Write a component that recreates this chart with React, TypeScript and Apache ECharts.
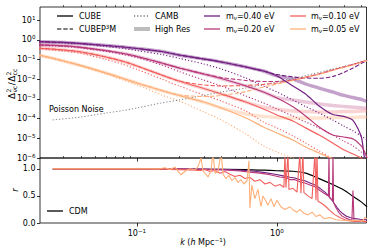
import React, { useEffect, useRef } from 'react';
import * as echarts from 'echarts';

const FONT = 'DejaVu Sans';

// wavenumber grid (h/Mpc) for the top panel curves
const K = [0.02, 0.03, 0.04, 0.06, 0.08, 0.1, 0.15, 0.2, 0.3, 0.4, 0.6, 0.8, 1.0, 1.3, 1.6, 2.0, 2.5, 3.0, 3.5, 4.0, 4.2, 4.4];

// m_nu = 0.40 eV
const pur_cube = [0.82, 0.75, 0.66, 0.525, 0.44, 0.37, 0.26, 0.173, 0.108, 0.0762, 0.0424, 0.0265, 0.0148, 0.0046, 0.0018, 0.00044, 0.000163, 0.00013, 0.00008, 0.000012, 0.0000012, 2e-7];
const pur_p3m = [0.82, 0.75, 0.66, 0.525, 0.44, 0.37, 0.26, 0.173, 0.108, 0.0762, 0.0424, 0.0265, 0.0176, 0.0132, 0.0117, 0.0113, 0.014, 0.0223, 0.0377, 0.0638, 0.0762, 0.091];
const pur_hr = [0.82, 0.75, 0.66, 0.525, 0.44, 0.37, 0.26, 0.173, 0.108, 0.0762, 0.0424, 0.0265, 0.0148, 0.0104, 0.0058, 0.0036, 0.00227, 0.00151, 0.00119, 0.00095, 0.00084, 0.00075];
const pur_camb = [0.79, 0.7, 0.63, 0.47, 0.37, 0.29, 0.183, 0.117, 0.0603, 0.0336, 0.0117, 0.0046, 0.00227, 0.00089, 0.00042, 0.000194, 0.000086, 0.000042, 0.0000237, 0.0000132, 0.0000104, 0.0000082];
// m_nu = 0.20 eV
const mag_cube = [0.56, 0.5, 0.42, 0.29, 0.206, 0.145, 0.0677, 0.0377, 0.0187, 0.011, 0.0046, 0.00227, 0.00112, 0.0004, 0.000137, 0.000038, 0.0000148, 0.0000117, 0.0000093, 0.0000041, 0.0000023, 0.000001];
const mag_p3m = [0.56, 0.5, 0.42, 0.29, 0.206, 0.145, 0.0677, 0.0377, 0.0187, 0.0124, 0.0087, 0.0078, 0.0078, 0.0092, 0.0124, 0.0187, 0.0299, 0.0424, 0.057, 0.0762, 0.0856, 0.091];
const mag_hr = [0.56, 0.5, 0.42, 0.29, 0.206, 0.145, 0.0677, 0.0377, 0.0187, 0.011, 0.0046, 0.00227, 0.00118, 0.00089, 0.0007, 0.00056, 0.00047, 0.00042, 0.00038, 0.00036, 0.00035, 0.00035];
const mag_camb = [0.525, 0.47, 0.39, 0.26, 0.183, 0.129, 0.0536, 0.025, 0.0092, 0.0046, 0.00142, 0.00063, 0.00031, 0.000137, 0.000068, 0.000034, 0.0000148, 0.0000073, 0.0000041, 0.000002, 0.0000016, 0.00000113];
// m_nu = 0.10 eV
const ora_cube = [0.38, 0.31, 0.245, 0.137, 0.0807, 0.0477, 0.0166, 0.0082, 0.0034, 0.0018, 0.0007, 0.00031, 0.000154, 0.000076, 0.000034, 0.0000148, 0.0000058, 0.0000026, 0.0000016, 0.000001, 8e-7, 6.3e-7];
const ora_p3m = [0.38, 0.31, 0.245, 0.137, 0.0807, 0.0477, 0.0166, 0.0082, 0.0052, 0.0046, 0.0049, 0.0055, 0.0065, 0.0092, 0.0132, 0.0187, 0.0299, 0.0424, 0.057, 0.0762, 0.0856, 0.091];
const ora_hr = [0.38, 0.31, 0.245, 0.137, 0.0807, 0.0477, 0.0166, 0.0082, 0.0034, 0.0018, 0.0007, 0.00039, 0.0003, 0.000245, 0.000232, 0.000219, 0.000219, 0.000232, 0.000232, 0.000245, 0.000245, 0.000245];
const ora_camb = [0.35, 0.276, 0.206, 0.102, 0.057, 0.0317, 0.0104, 0.0046, 0.0016, 0.00079, 0.000245, 0.000068, 0.000034, 0.0000132, 0.0000058, 0.0000023, 9e-7, 3.5e-7, 2e-7, 1.2e-7, 1e-7, 8e-8];
// m_nu = 0.05 eV
const pea_cube = [0.173, 0.0856, 0.05, 0.021, 0.011, 0.0065, 0.0027, 0.00151, 0.0007, 0.00035, 0.000108, 0.000038, 0.0000187, 0.0000082, 0.0000036, 0.0000018, 9e-7, 5.6e-7, 3.5e-7, 2.5e-7, 2.2e-7, 2e-7];
const pea_p3m = [0.173, 0.0856, 0.05, 0.021, 0.011, 0.0065, 0.0027, 0.0016, 0.00134, 0.00151, 0.0024, 0.0041, 0.0058, 0.0087, 0.0124, 0.0176, 0.028, 0.04, 0.0536, 0.072, 0.081, 0.0856];
const pea_hr = [0.173, 0.0856, 0.05, 0.021, 0.011, 0.0065, 0.0027, 0.00151, 0.0007, 0.00035, 0.000173, 0.00013, 0.000115, 0.000108, 0.000108, 0.000108, 0.000115, 0.000115, 0.000115, 0.000122, 0.000122, 0.000122];
const pea_camb = [0.154, 0.08, 0.046, 0.0187, 0.0092, 0.0052, 0.0016, 0.00079, 0.000219, 0.000086, 0.0000166, 0.0000041, 0.000002, 0.000001, 5e-7, 2.5e-7, 1.2e-7, 8e-8, 5e-8, 3.5e-8, 3e-8, 2.7e-8];

// Poisson noise
const K_POISSON = [0.025, 0.04, 0.06, 0.08, 0.1, 0.15, 0.2, 0.3, 0.4, 0.6, 0.8, 1.0, 1.3, 1.6, 2.0, 2.5, 3.0, 3.5, 4.0, 4.4];
const poisson = [0.000086, 0.000122, 0.000194, 0.00026, 0.00035, 0.00063, 0.00089, 0.00151, 0.00227, 0.0036, 0.0055, 0.0073, 0.011, 0.0157, 0.0223, 0.0336, 0.045, 0.0603, 0.0762, 0.091];

// cross-correlation r(k), [k, r]
const r_cdm = [[0.025, 0.99], [0.1, 0.99], [0.3, 0.99], [0.6, 0.985], [0.8, 0.975], [1.0, 0.965], [1.3, 0.955], [1.6, 0.92], [2.0, 0.82], [2.5, 0.71], [3.0, 0.61], [3.5, 0.49], [4.0, 0.39], [4.4, 0.3]];
const r_040 = [[0.0251, 1.0], [0.124, 1.0], [0.282, 0.995], [0.462, 0.985], [0.591, 0.97], [0.696, 0.955], [0.821, 0.93], [0.968, 0.9], [1.108, 0.87], [1.239, 0.845], [1.345, 0.83], [1.459, 0.8], [1.585, 0.78], [1.722, 0.74], [1.868, 0.7], [2.028, 0.64], [2.203, 0.57], [2.392, 0.47], [2.55, 0.37], [2.68, 0.29], [2.818, 0.22], [2.96, 0.17], [3.11, 0.13], [3.32, 0.1], [3.606, 0.08], [3.917, 0.07], [4.39, 0.06]];
const r_020 = [[0.0251, 1.0], [0.146, 1.0], [0.282, 0.99], [0.425, 0.98], [0.544, 0.96], [0.641, 0.94], [0.756, 0.92], [0.891, 0.89], [1.05, 0.85], [1.18, 0.83], [1.239, 0.8], [1.345, 0.8], [1.459, 0.76], [1.585, 0.74], [1.722, 0.7], [1.868, 0.67], [2.028, 0.6], [2.166, 0.55], [2.33, 0.5], [2.352, 1.3], [2.372, 0.47], [2.49, 0.42], [2.513, 1.3], [2.535, 0.38], [2.638, 0.28], [2.77, 0.19], [2.91, 0.13], [3.11, 0.09], [3.32, 0.06], [3.43, 0.05], [3.49, 0.6], [3.55, 0.05], [3.79, 0.04], [4.11, 0.03], [4.39, 0.03]];
const r_010 = [[0.0251, 1.0], [0.124, 1.0], [0.172, 0.99], [0.239, 0.98], [0.282, 0.97], [0.306, 0.99], [0.332, 0.95], [0.361, 0.97], [0.392, 0.92], [0.425, 0.95], [0.462, 0.9], [0.501, 0.86], [0.544, 0.88], [0.591, 0.82], [0.641, 0.84], [0.696, 0.77], [0.756, 0.8], [0.821, 0.72], [0.891, 0.75], [0.968, 0.68], [1.05, 0.71], [1.121, 0.66], [1.14, 1.3], [1.159, 0.65], [1.198, 1.3], [1.218, 0.62], [1.301, 0.64], [1.39, 0.57], [1.459, 1.3], [1.483, 0.55], [1.533, 1.3], [1.558, 0.56], [1.665, 0.5], [1.78, 0.45], [1.868, 1.3], [1.899, 0.42], [1.931, 1.3], [1.963, 0.4], [2.097, 0.36], [2.24, 0.3], [2.392, 0.23], [2.595, 0.15], [2.818, 0.1], [3.06, 0.06], [3.32, 0.04], [3.606, 0.03], [3.917, 0.04], [4.39, 0.02]];
const r_005 = [[0.0251, 1.0], [0.146, 1.0], [0.158, 1.02], [0.172, 0.99], [0.187, 1.03], [0.206, 0.89], [0.224, 0.97], [0.239, 1.0], [0.26, 0.98], [0.273, 1.04], [0.287, 1.2], [0.296, 0.96], [0.322, 0.85], [0.338, 0.97], [0.349, 1.3], [0.361, 0.92], [0.379, 0.95], [0.399, 1.3], [0.412, 0.9], [0.432, 0.82], [0.454, 0.88], [0.477, 0.78], [0.501, 0.84], [0.526, 0.75], [0.553, 0.8], [0.581, 0.72], [0.611, 0.78], [0.631, 1.15], [0.641, 0.28], [0.662, 0.7], [0.696, 0.45], [0.731, 0.62], [0.769, 0.3], [0.794, 0.5], [0.835, 0.4], [0.862, 0.33], [0.906, 0.45], [0.952, 0.3], [1.0, 0.42], [1.067, 0.3], [1.14, 0.25], [1.239, 0.3], [1.301, 0.24], [1.39, 0.2], [1.459, 0.25], [1.558, 0.18], [1.665, 0.15], [1.78, 0.2], [1.899, 0.12], [2.028, 0.15], [2.166, 0.08], [2.392, 0.1], [2.638, 0.06], [2.912, 0.05], [3.32, 0.04], [3.788, 0.05], [4.048, 0.03], [4.253, 0.1], [4.39, 0.08]];

// axis ticks
const X_MAJOR = [0.1, 1];
const X_MINOR = [0.03, 0.04, 0.05, 0.06, 0.07, 0.08, 0.09, 0.2, 0.3, 0.4, 0.5, 0.6, 0.7, 0.8, 0.9, 2, 3, 4];
const Y_TOP = [1e-6, 1e-5, 1e-4, 1e-3, 1e-2, 1e-1, 1, 10];
const Y_BOT = [0, 0.5, 1.0];

const C040 = '#721f81';
const C020 = '#b73779';
const C010 = '#f1605d';
const C005 = '#feb078';

const DASH = [4.4, 1.9];
const DOT = [1.2, 2];

const zip = (ks: number[], vs: number[]) => ks.map((k, i) => [k, vs[i]]);

const RICH = {
  s: { fontSize: 5.6, fontFamily: FONT, padding: [0, 0, 5, 0] },
  b: { fontSize: 5.6, fontFamily: FONT, padding: [4, 0, 0, 0] },
  i: { fontSize: 8, fontFamily: FONT, fontStyle: 'italic' },
};

const pow10 = (v: number) => {
  const e = Math.round(Math.log10(v));
  return '10{s|' + (e < 0 ? '\u2212' + -e : String(e)) + '}';
};

function line(data: any, color: string, width: number, type: any, xi: number, yi: number, opacity = 1, smooth: any = 0.25) {
  return {
    type: 'line', data, xAxisIndex: xi, yAxisIndex: yi, symbol: 'none', silent: true,
    smooth, lineStyle: { color, width, type, opacity, cap: 'butt' }, emphasis: { disabled: true },
  };
}

const txt = (x: number, y: number, text: string, extra: any = {}) => ({
  type: 'text', x, y, silent: true,
  style: { text, fill: '#000', fontSize: 8, fontFamily: FONT, align: 'left', verticalAlign: 'middle', rich: RICH, ...extra },
});
const seg = (x1: number, x2: number, y: number, stroke: string, lineWidth: number, lineDash: any = null, opacity = 1) => ({
  type: 'line', silent: true, shape: { x1, y1: y, x2, y2: y },
  style: { stroke, lineWidth, lineDash, opacity },
});

const XMIN = 0.0203;
const XMAX = 4.36;

function xAxes(grid: number, labels: boolean) {
  const common = { gridIndex: grid, type: 'log', min: XMIN, max: XMAX, axisLine: { show: false }, splitLine: { show: false } };
  return [
    {
      ...common,
      axisTick: { show: true, inside: false, length: 3.5, customValues: X_MAJOR, lineStyle: { color: '#000', width: 0.8 } },
      axisLabel: labels
        ? { show: true, customValues: X_MAJOR, formatter: pow10, rich: RICH, fontSize: 8, fontFamily: FONT, color: '#000', margin: 5 }
        : { show: false },
    },
    {
      ...common,
      axisTick: { show: true, inside: false, length: 2, customValues: X_MINOR, lineStyle: { color: '#000', width: 0.6 } },
      axisLabel: { show: false },
    },
  ];
}

function buildOption() {
  const T = (v: number[]) => zip(K, v);
  const series: any[] = [];
  // High Res (thick, translucent)
  series.push(line(T(pur_hr), C040, 3.4, 'solid', 0, 0, 0.42));
  series.push(line(T(mag_hr), C020, 3.4, 'solid', 0, 0, 0.28));
  series.push(line(T(ora_hr), C010, 3.4, 'solid', 0, 0, 0.28));
  series.push(line(T(pea_hr), C005, 3.4, 'solid', 0, 0, 0.35));
  // CAMB dotted
  series.push(line(T(pur_camb), C040, 1.1, DOT, 0, 0));
  series.push(line(T(mag_camb), C020, 1.1, DOT, 0, 0));
  series.push(line(T(ora_camb), C010, 1.1, DOT, 0, 0));
  series.push(line(T(pea_camb), C005, 1.1, DOT, 0, 0));
  // Poisson
  series.push(line(zip(K_POISSON, poisson), '#808080', 1, DOT, 0, 0));
  // CUBEP3M dashed
  series.push(line(T(pur_p3m), C040, 1.1, DASH, 0, 0));
  series.push(line(T(mag_p3m), C020, 1.1, DASH, 0, 0));
  series.push(line(T(ora_p3m), C010, 1.1, DASH, 0, 0));
  series.push(line(T(pea_p3m), C005, 1.1, DASH, 0, 0));
  // CUBE solid
  series.push(line(T(pur_cube), C040, 1.2, 'solid', 0, 0));
  series.push(line(T(mag_cube), C020, 1.2, 'solid', 0, 0));
  series.push(line(T(ora_cube), C010, 1.2, 'solid', 0, 0));
  series.push(line(T(pea_cube), C005, 1.2, 'solid', 0, 0));
  // bottom panel
  series.push(line(r_cdm, '#000', 1.2, 'solid', 2, 1, 1, 0.3));
  series.push(line(r_040, C040, 1.1, 'solid', 2, 1, 1, false));
  series.push(line(r_020, C020, 1.1, 'solid', 2, 1, 1, false));
  series.push(line(r_010, C010, 1.1, 'solid', 2, 1, 1, false));
  series.push(line(r_005, C005, 1.1, 'solid', 2, 1, 1, false));

  const graphic: any[] = [
    // legend, column 1
    seg(57, 73, 16, '#000', 1.3),
    txt(79, 16, 'CUBE'),
    seg(57, 73, 29, '#000', 1.2, DASH),
    txt(79, 29, 'CUBEP{s|3}M'),
    // column 2
    seg(134, 150, 16, '#333', 1.1, DOT),
    txt(155, 16, 'CAMB'),
    seg(134, 150, 29, '#bdbdbd', 4),
    txt(155, 29, 'High Res'),
    // column 3
    seg(204, 220, 16, C040, 1.3),
    txt(226, 16, 'm{b|\u03bd}=0.40 eV'),
    seg(204, 220, 29, C020, 1.3),
    txt(226, 29, 'm{b|\u03bd}=0.20 eV'),
    // column 4
    seg(290, 306, 16, C010, 1.3),
    txt(311, 16, 'm{b|\u03bd}=0.10 eV'),
    seg(290, 306, 29, C005, 1.3),
    txt(311, 29, 'm{b|\u03bd}=0.05 eV'),
    // annotation
    txt(49, 109.5, 'Poisson Noise'),
    // bottom legend
    seg(47, 63, 211, '#000', 1.3),
    txt(69, 211, 'CDM'),
    // x label
    txt(203, 242.5, '{i|k} ({i|h} Mpc{s|\u22121})', { align: 'center' }),
    // r label
    { ...txt(15, 190, 'r', { align: 'center', fontStyle: 'italic', fontSize: 8.5 }), rotation: Math.PI / 2 },
    // top y label (rotated)
    {
      type: 'group', x: 12, y: 83, rotation: Math.PI / 2, silent: true,
      children: [
        txt(-16, 0, '\u0394', { fontSize: 9 }),
        txt(-9.6, -3.3, '2', { fontSize: 6.2 }),
        txt(-9.6, 2.9, '\u03bdc', { fontSize: 6.2 }),
        txt(-2.2, 0, '/', { fontSize: 9 }),
        txt(1.2, 0, '\u0394', { fontSize: 9 }),
        txt(7.6, -3.3, '2', { fontSize: 6.2 }),
        txt(7.6, 2.9, 'cc', { fontSize: 6.2 }),
      ],
    },
  ];

  return {
    animation: false,
    backgroundColor: '#fff',
    textStyle: { fontFamily: FONT },
    grid: [
      { left: 40, top: 7, width: 326.5, height: 151, show: true, borderColor: '#000', borderWidth: 0.8, backgroundColor: 'transparent' },
      { left: 40, top: 158, width: 326.5, height: 65, show: true, borderColor: '#000', borderWidth: 0.8, backgroundColor: 'transparent' },
    ],
    xAxis: [...xAxes(0, false), ...xAxes(1, true)],
    yAxis: [
      {
        gridIndex: 0, type: 'log', min: 1e-6, max: 47.6,
        axisLine: { show: false }, splitLine: { show: false },
        axisTick: { show: true, length: 3, customValues: Y_TOP, lineStyle: { color: '#000', width: 0.8 } },
        axisLabel: { customValues: Y_TOP, formatter: pow10, rich: RICH, fontSize: 8, fontFamily: FONT, color: '#000', margin: 4.5 },
      },
      {
        gridIndex: 1, type: 'value', min: 0, max: 1.2,
        axisLine: { show: false }, splitLine: { show: false },
        axisTick: { show: true, length: 3, customValues: Y_BOT, lineStyle: { color: '#000', width: 0.8 } },
        axisLabel: { customValues: Y_BOT, formatter: (v: number) => v.toFixed(1), fontSize: 8, fontFamily: FONT, color: '#000', margin: 4.5 },
      },
    ],
    series,
    graphic,
  };
}

export default function App() {
  const ref = useRef<HTMLDivElement>(null);
  useEffect(() => {
    const chart = echarts.init(ref.current!, null, { renderer: 'svg' });
    chart.setOption(buildOption() as any);
    return () => chart.dispose();
  }, []);
  return <div ref={ref} style={{ position: 'fixed', left: 0, top: 0, width: 374, height: 252 }} />;
}
